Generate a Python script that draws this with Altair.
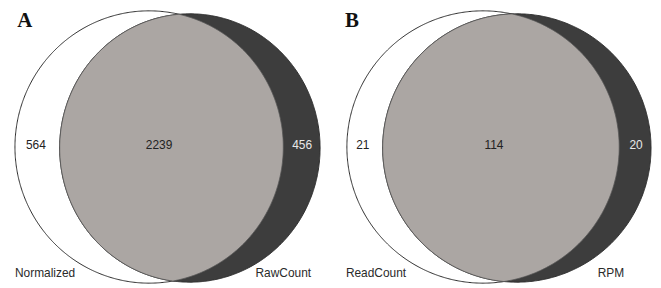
import altair as alt
import numpy as np
import pandas as pd

# ---- data ----
panels = ["A", "B"]
set_left = ["Normalized", "ReadCount"]
set_right = ["RawCount", "RPM"]
only_left = [564, 21]
both = [2239, 114]
only_right = [456, 20]

# ---- layout (page pixel coordinates) ----
W, H = 645, 272
OX, OY = 8, 8
left_ell = [(150, 147, 135, 137), (486, 147, 137, 137)]   # cx, cy, rx, ry
right_ell = [(191, 148, 131, 135), (520, 148, 135, 135)]
panel_tag_x = [25, 354]
num_left_x = [36, 365]
num_mid_x = [160, 497]
num_right_x = [304, 640]
lab_left_x = [15, 348]
lab_right_x = [313, 628]
num_y = 145
lab_y = 274
tag_y = 26

N = 361


def ellipse(cx, cy, rx, ry):
    t = np.linspace(0, np.pi, N)
    x = cx - rx * np.cos(t)
    h = ry * np.sin(t)
    return x, cy - h, cy + h


def half(x, cx, rx, ry):
    return ry * np.sqrt(np.clip(1 - ((x - cx) / rx) ** 2, 0, None))


def lens(le, re):
    a = re[0] - re[2]
    b = le[0] + le[2]
    t = np.linspace(0, np.pi, N)
    x = (a + b) / 2 - (b - a) / 2 * np.cos(t)
    hl = half(x, le[0], le[2], le[3])
    hr = half(x, re[0], re[2], re[3])
    top = np.maximum(le[1] - hl, re[1] - hr)
    bot = np.minimum(le[1] + hl, re[1] + hr)
    bot = np.maximum(bot, top)
    return x, top, bot


def frame(kind):
    rows = []
    for p, le, re in zip(panels, left_ell, right_ell):
        if kind == "left":
            x, y, y2 = ellipse(*le)
        elif kind == "right":
            x, y, y2 = ellipse(*re)
        else:
            x, y, y2 = lens(le, re)
        rows.append(pd.DataFrame({"panel": p, "x": x, "y": y, "y2": y2}))
    return pd.concat(rows, ignore_index=True)


xs = alt.Scale(domain=[OX, OX + W], zero=False, nice=False)
ys = alt.Scale(domain=[OY, OY + H], zero=False, nice=False, reverse=True)


def area_layer(kind, fill, stroke, sw):
    return alt.Chart(frame(kind)).mark_area(
        fill=fill, stroke=stroke, strokeWidth=sw, interpolate="linear"
    ).encode(
        x=alt.X("x:Q", scale=xs, axis=None),
        y=alt.Y("y:Q", scale=ys, axis=None),
        y2="y2:Q",
        detail="panel:N",
    )


left_layer = area_layer("left", "#ffffff", "#2e2e2e", 1)
right_layer = area_layer("right", "#3d3d3d", "#2e2e2e", 1)
lens_layer = area_layer("lens", "#aba6a3", "#555555", 0.8)

nums_dark = pd.DataFrame({
    "x": num_left_x + num_mid_x,
    "y": [num_y] * 4,
    "t": [str(v) for v in only_left + both],
})
nums_light = pd.DataFrame({
    "x": num_right_x,
    "y": [num_y] * 2,
    "t": [str(v) for v in only_right],
})
labs_l = pd.DataFrame({"x": lab_left_x, "y": [lab_y] * 2, "t": set_left})
labs_r = pd.DataFrame({"x": lab_right_x, "y": [lab_y] * 2, "t": set_right})
tags = pd.DataFrame({"x": panel_tag_x, "y": [tag_y] * 2, "t": panels})


def text_layer(df, color, align="center", baseline="middle", font="Liberation Sans",
               size=12, weight="normal"):
    return alt.Chart(df).mark_text(
        color=color, align=align, baseline=baseline, font=font, fontSize=size,
        fontWeight=weight,
    ).encode(
        x=alt.X("x:Q", scale=xs, axis=None),
        y=alt.Y("y:Q", scale=ys, axis=None),
        text="t:N",
    )


chart = alt.layer(
    left_layer,
    right_layer,
    lens_layer,
    text_layer(nums_dark, "#222222"),
    text_layer(nums_light, "#e8e8e8"),
    text_layer(labs_l, "#2a2a2a", align="left"),
    text_layer(labs_r, "#2a2a2a", align="right"),
    text_layer(tags, "#111111", baseline="alphabetic", font="Liberation Serif",
               size=21, weight="bold"),
).properties(width=W, height=H, padding=0, background="#ffffff").configure_view(
    stroke=None
)

chart.save("out.html", embed_options={"renderer": "svg", "actions": False})
